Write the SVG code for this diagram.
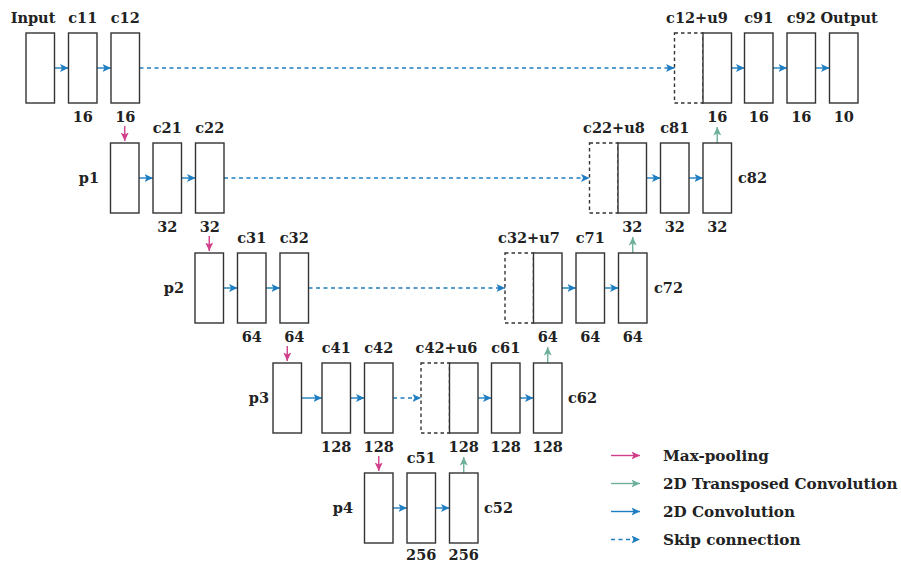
<svg xmlns="http://www.w3.org/2000/svg" width="901" height="563" viewBox="0 0 901 563">
<defs>
<marker id="hb" markerUnits="userSpaceOnUse" markerWidth="12" markerHeight="12" refX="8.5" refY="4.5" orient="auto"><path d="M0,0.5 L8.5,4.5 L0,8.5 L2,4.5 Z" fill="#1f7ec1"/></marker>
<marker id="hm" markerUnits="userSpaceOnUse" markerWidth="12" markerHeight="12" refX="8.5" refY="4.5" orient="auto"><path d="M0,0.5 L8.5,4.5 L0,8.5 L2,4.5 Z" fill="#d13f8b"/></marker>
<marker id="hg" markerUnits="userSpaceOnUse" markerWidth="12" markerHeight="12" refX="8.5" refY="4.5" orient="auto"><path d="M0,0.5 L8.5,4.5 L0,8.5 L2,4.5 Z" fill="#6fb09c"/></marker>
</defs>
<style>
.b{fill:#fff;stroke:#333;stroke-width:1.4}
.d{fill:none;stroke:#333;stroke-width:1.4;stroke-dasharray:3.5,3}
.t{font-family:"DejaVu Serif",serif;font-weight:bold;font-size:14.5px;fill:#222}
.m{text-anchor:middle}
.e{text-anchor:end}
.lg{font-family:"DejaVu Serif",serif;font-weight:bold;font-size:15.2px;fill:#222}
.cv{stroke:#1f7ec1;stroke-width:1.4;fill:none;marker-end:url(#hb)}
.sk{stroke:#1f7ec1;stroke-width:1.4;fill:none;stroke-dasharray:4,3.5;marker-end:url(#hb)}
.mp{stroke:#d13f8b;stroke-width:1.4;fill:none;marker-end:url(#hm)}
.up{stroke:#6fb09c;stroke-width:1.4;fill:none;marker-end:url(#hg)}
</style>

<g id="connectors">
<line class="cv" x1="54.5" y1="68" x2="68.5" y2="68"/>
<line class="cv" x1="97" y1="68" x2="111" y2="68"/>
<line class="sk" x1="139.5" y1="68" x2="674.5" y2="68"/>
<line class="cv" x1="731.5" y1="68" x2="744.5" y2="68"/>
<line class="cv" x1="773" y1="68" x2="787" y2="68"/>
<line class="cv" x1="815.5" y1="68" x2="829.5" y2="68"/>
<line class="mp" x1="124.75" y1="126" x2="124.75" y2="141"/>
<line class="cv" x1="139" y1="178" x2="153" y2="178"/>
<line class="cv" x1="181.5" y1="178" x2="195.5" y2="178"/>
<line class="sk" x1="224" y1="178" x2="589.5" y2="178"/>
<line class="cv" x1="646.5" y1="178" x2="660.5" y2="178"/>
<line class="cv" x1="689" y1="178" x2="703" y2="178"/>
<line class="up" x1="717.25" y1="143" x2="717.25" y2="127"/>
<line class="mp" x1="209.25" y1="236" x2="209.25" y2="251"/>
<line class="cv" x1="223.5" y1="288" x2="237.5" y2="288"/>
<line class="cv" x1="266" y1="288" x2="280" y2="288"/>
<line class="sk" x1="308.5" y1="288" x2="505" y2="288"/>
<line class="cv" x1="562" y1="288" x2="576" y2="288"/>
<line class="cv" x1="604.5" y1="288" x2="618.5" y2="288"/>
<line class="up" x1="632.75" y1="253" x2="632.75" y2="237"/>
<line class="mp" x1="287.25" y1="346" x2="287.25" y2="361"/>
<line class="cv" x1="301.5" y1="398" x2="322" y2="398"/>
<line class="cv" x1="350.5" y1="398" x2="364.5" y2="398"/>
<line class="sk" x1="393" y1="398" x2="421" y2="398"/>
<line class="cv" x1="478" y1="398" x2="491.5" y2="398"/>
<line class="cv" x1="520" y1="398" x2="533.5" y2="398"/>
<line class="up" x1="547.75" y1="363" x2="547.75" y2="347"/>
<line class="mp" x1="378.75" y1="456" x2="378.75" y2="471"/>
<line class="cv" x1="393" y1="508" x2="407" y2="508"/>
<line class="cv" x1="435.5" y1="508" x2="449.5" y2="508"/>
<line class="up" x1="463.75" y1="473" x2="463.75" y2="457"/>
</g>

<g id="input"><rect class="b" x="26" y="33" width="28.5" height="70"/><text class="t m" x="33" y="23">Input</text></g>
<g id="c11"><rect class="b" x="68.5" y="33" width="28.5" height="70"/><text class="t m" x="82.75" y="23">c11</text><text class="t m" x="82.75" y="122">16</text></g>
<g id="c12"><rect class="b" x="111" y="33" width="28.5" height="70"/><text class="t m" x="125.25" y="23">c12</text><text class="t m" x="125.25" y="122">16</text></g>
<g id="c12u9"><rect class="d" x="674.5" y="33" width="28.5" height="70"/><rect class="b" x="703" y="33" width="28.5" height="70"/><text class="t m" x="697" y="23">c12+u9</text><text class="t m" x="717.25" y="122">16</text></g>
<g id="c91"><rect class="b" x="744.5" y="33" width="28.5" height="70"/><text class="t m" x="758.75" y="23">c91</text><text class="t m" x="758.75" y="122">16</text></g>
<g id="c92"><rect class="b" x="787" y="33" width="28.5" height="70"/><text class="t m" x="801.25" y="23">c92</text><text class="t m" x="801.25" y="122">16</text></g>
<g id="output"><rect class="b" x="829.5" y="33" width="28.5" height="70"/><text class="t m" x="849" y="23">Output</text><text class="t m" x="843.75" y="122">10</text></g>

<g id="p1"><rect class="b" x="110.5" y="143" width="28.5" height="70"/><text class="t e" x="99" y="183">p1</text></g>
<g id="c21"><rect class="b" x="153" y="143" width="28.5" height="70"/><text class="t m" x="167.25" y="133">c21</text><text class="t m" x="167.25" y="232">32</text></g>
<g id="c22"><rect class="b" x="195.5" y="143" width="28.5" height="70"/><text class="t m" x="209.75" y="133">c22</text><text class="t m" x="209.75" y="232">32</text></g>
<g id="c22u8"><rect class="d" x="589.5" y="143" width="28.5" height="70"/><rect class="b" x="618" y="143" width="28.5" height="70"/><text class="t m" x="614" y="133">c22+u8</text><text class="t m" x="632.25" y="232">32</text></g>
<g id="c81"><rect class="b" x="660.5" y="143" width="28.5" height="70"/><text class="t m" x="674.75" y="133">c81</text><text class="t m" x="674.75" y="232">32</text></g>
<g id="c82"><rect class="b" x="703" y="143" width="28.5" height="70"/><text class="t" x="738" y="183">c82</text><text class="t m" x="717.25" y="232">32</text></g>

<g id="p2"><rect class="b" x="195" y="253" width="28.5" height="70"/><text class="t e" x="184" y="293">p2</text></g>
<g id="c31"><rect class="b" x="237.5" y="253" width="28.5" height="70"/><text class="t m" x="251.75" y="243">c31</text><text class="t m" x="251.75" y="342">64</text></g>
<g id="c32"><rect class="b" x="280" y="253" width="28.5" height="70"/><text class="t m" x="294.25" y="243">c32</text><text class="t m" x="294.25" y="342">64</text></g>
<g id="c32u7"><rect class="d" x="505" y="253" width="28.5" height="70"/><rect class="b" x="533.5" y="253" width="28.5" height="70"/><text class="t m" x="529" y="243">c32+u7</text><text class="t m" x="547.75" y="342">64</text></g>
<g id="c71"><rect class="b" x="576" y="253" width="28.5" height="70"/><text class="t m" x="590.25" y="243">c71</text><text class="t m" x="590.25" y="342">64</text></g>
<g id="c72"><rect class="b" x="618.5" y="253" width="28.5" height="70"/><text class="t" x="654" y="293">c72</text><text class="t m" x="632.75" y="342">64</text></g>

<g id="p3"><rect class="b" x="273" y="363" width="28.5" height="70"/><text class="t e" x="269" y="403">p3</text></g>
<g id="c41"><rect class="b" x="322" y="363" width="28.5" height="70"/><text class="t m" x="336.25" y="353">c41</text><text class="t m" x="336.25" y="452">128</text></g>
<g id="c42"><rect class="b" x="364.5" y="363" width="28.5" height="70"/><text class="t m" x="378.75" y="353">c42</text><text class="t m" x="378.75" y="452">128</text></g>
<g id="c42u6"><rect class="d" x="421" y="363" width="28.5" height="70"/><rect class="b" x="449.5" y="363" width="28.5" height="70"/><text class="t m" x="446.5" y="353">c42+u6</text><text class="t m" x="463.75" y="452">128</text></g>
<g id="c61"><rect class="b" x="491.5" y="363" width="28.5" height="70"/><text class="t m" x="505.75" y="353">c61</text><text class="t m" x="505.75" y="452">128</text></g>
<g id="c62"><rect class="b" x="533.5" y="363" width="28.5" height="70"/><text class="t" x="568" y="403">c62</text><text class="t m" x="547.75" y="452">128</text></g>

<g id="p4"><rect class="b" x="364.5" y="473" width="28.5" height="70"/><text class="t e" x="353" y="513">p4</text></g>
<g id="c51"><rect class="b" x="407" y="473" width="28.5" height="70"/><text class="t m" x="421.25" y="463">c51</text><text class="t m" x="421.25" y="560">256</text></g>
<g id="c52"><rect class="b" x="449.5" y="473" width="28.5" height="70"/><text class="t" x="484" y="513">c52</text><text class="t m" x="463.75" y="560">256</text></g>

<g id="legend">
<line class="mp" x1="611" y1="455.5" x2="640" y2="455.5"/>
<text class="lg" x="663" y="461">Max-pooling</text>
<line class="up" x1="611" y1="483.5" x2="640" y2="483.5"/>
<text class="lg" x="663" y="489">2D Transposed Convolution</text>
<line class="cv" x1="611" y1="511.5" x2="640" y2="511.5"/>
<text class="lg" x="663" y="517">2D Convolution</text>
<line class="sk" x1="611" y1="539.5" x2="640" y2="539.5"/>
<text class="lg" x="663" y="545">Skip connection</text>
</g>
</svg>
